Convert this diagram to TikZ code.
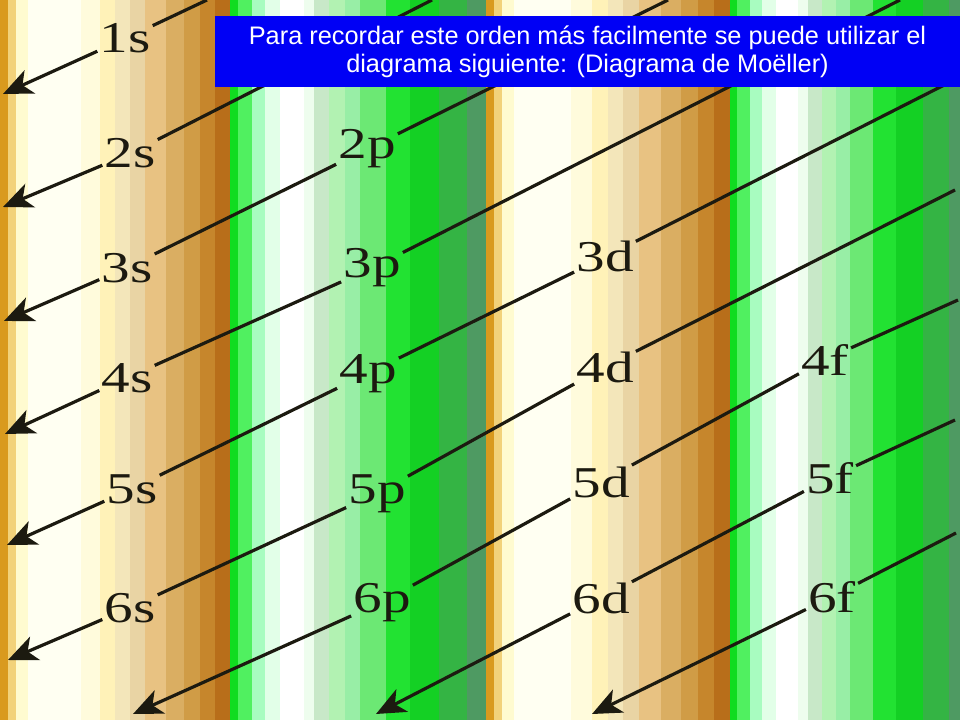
\documentclass[tikz,border=0pt]{standalone}
\usepackage{fontspec}
\setmainfont{Liberation Serif}
\newfontfamily\notefont{Liberation Sans}
\usetikzlibrary{arrows.meta}

\definecolor{ink}{HTML}{1C1A10}
\definecolor{noteblue}{HTML}{0000F5}
% brown stripe
\definecolor{brA}{HTML}{D99A1E}
\definecolor{brB}{HTML}{F2D27A}
\definecolor{brC}{HTML}{FFFBD0}
\definecolor{brD}{HTML}{FFFFF2}
\definecolor{brE}{HTML}{FFFBDC}
\definecolor{brF}{HTML}{FFF2B8}
\definecolor{brG}{HTML}{F3E6BA}
\definecolor{brH}{HTML}{E9D4A4}
\definecolor{brI}{HTML}{E8C282}
\definecolor{brJ}{HTML}{DAAE62}
\definecolor{brK}{HTML}{D09C46}
\definecolor{brL}{HTML}{C6862C}
\definecolor{brM}{HTML}{B86E1A}
% green stripe
\definecolor{grA}{HTML}{10DC20}
\definecolor{grB}{HTML}{50F060}
\definecolor{grC}{HTML}{A8FCC0}
\definecolor{grD}{HTML}{E2FFE8}
\definecolor{grE}{HTML}{FFFFFF}
\definecolor{grF}{HTML}{EEFDEE}
\definecolor{grG}{HTML}{C8E8C8}
\definecolor{grH}{HTML}{B2F2B2}
\definecolor{grI}{HTML}{98EEA6}
\definecolor{grJ}{HTML}{6CE874}
\definecolor{grK}{HTML}{22E232}
\definecolor{grL}{HTML}{14D024}
\definecolor{grM}{HTML}{34B444}
\definecolor{grN}{HTML}{4E9A62}

\newcommand\wide[1]{\scalebox{1.3}[1]{#1}}

\tikzset{
  orbital/.style={font=\fontsize{33}{37}\selectfont, text=ink, inner sep=1.5pt, anchor=base},
  diag/.style={draw=ink, line width=2.4pt},
  diagarrow/.style={diag, -{Stealth[length=22pt,width=19pt,inset=6pt]}},
  note/.style={fill=noteblue, text=white, font=\notefont\fontsize{19}{21}\selectfont,
    align=center, minimum width=558.75pt, minimum height=53.25pt, inner sep=0pt}
}

\begin{document}
\begin{tikzpicture}[x=0.75pt, y=-0.75pt]
    \useasboundingbox (0,0) rectangle (960,720);
    \clip (0,0) rectangle (960,720);

    % background stripes
    \foreach \xs/\sc in {0/2.3, 485/2.45} {
        \begin{scope}[shift={(\xs,0)}, xscale=\sc]
            \foreach \a/\b/\c in {0/3.5/brA, 3.5/7/brB, 7/12/brC, 12/35/brD, 35/43.5/brE,
                43.5/50/brF, 50/56.5/brG, 56.5/63/brH, 63/72/brI, 72/80/brJ, 80/87/brK,
                87/93.5/brL, 93.5/100/brM}
                \fill[\c] (\a,0) rectangle (\b+0.4,720);
        \end{scope}
    }
    \foreach \xs/\sc in {230/2.55, 730/2.35} {
        \begin{scope}[shift={(\xs,0)}, xscale=\sc]
            \foreach \a/\b/\c in {0/3/grA, 3/8.6/grB, 8.6/13.7/grC, 13.7/19.6/grD, 19.6/29/grE,
                29/33/grF, 33/39/grG, 39/45/grH, 45/51/grI, 51/61/grJ, 61/70.6/grK,
                70.6/82/grL, 82/93/grM, 93/100/grN}
                \fill[\c] (\a,0) rectangle (\b+0.4,720);
        \end{scope}
    }

    % orbitals
    \node[orbital] (l1s) at (125,53) {\wide{1s}};
    \node[orbital] (l2s) at (130,168) {\wide{2s}};
    \node[orbital] (l3s) at (127,282) {\wide{3s}};
    \node[orbital] (l4s) at (127,392) {\wide{4s}};
    \node[orbital] (l5s) at (132,503) {\wide{5s}};
    \node[orbital] (l6s) at (130,622) {\wide{6s}};
    \node[orbital] (l2p) at (367,159) {\wide{2p}};
    \node[orbital] (l3p) at (372,278) {\wide{3p}};
    \node[orbital] (l4p) at (368,383) {\wide{4p}};
    \node[orbital] (l5p) at (377,503) {\wide{5p}};
    \node[orbital] (l6p) at (382,612) {\wide{6p}};
    \node[orbital] (l3d) at (605,272) {\wide{3d}};
    \node[orbital] (l4d) at (605,382) {\wide{4d}};
    \node[orbital] (l5d) at (601,497) {\wide{5d}};
    \node[orbital] (l6d) at (601,613) {\wide{6d}};
    \node[orbital] (l4f) at (825,375) {\wide{4f}};
    \node[orbital] (l5f) at (830,493) {\wide{5f}};
    \node[orbital] (l6f) at (832,612) {\wide{6f}};

    % free ends at the edges
    \coordinate (a1s) at (3,94);
    \coordinate (a2s) at (3,207);
    \coordinate (a3s) at (4,321);
    \coordinate (a4s) at (5,434);
    \coordinate (a5s) at (7,545);
    \coordinate (a6s) at (8,660);
    \coordinate (a6p) at (133,714);
    \coordinate (a6d) at (376,714);
    \coordinate (a6f) at (592,714);
    \coordinate (t1s) at (207,0);
    \coordinate (t2s) at (432,0);
    \coordinate (t2p) at (668,0);
    \coordinate (t3p) at (900,0);
    \coordinate (t3d) at (958,78);
    \coordinate (t4d) at (955,190);
    \coordinate (t4f) at (958,300);
    \coordinate (t5f) at (955,420);
    \coordinate (t6f) at (956,533);

    % diagonals
    \draw[diag] (t1s) -- (l1s);
    \draw[diag] (t2s) -- (l2s);
    \draw[diag] (t2p) -- (l2p);
    \draw[diag] (l2p) -- (l3s);
    \draw[diag] (t3p) -- (l3p);
    \draw[diag] (l3p) -- (l4s);
    \draw[diag] (t3d) -- (l3d);
    \draw[diag] (l3d) -- (l4p);
    \draw[diag] (l4p) -- (l5s);
    \draw[diag] (t4d) -- (l4d);
    \draw[diag] (l4d) -- (l5p);
    \draw[diag] (l5p) -- (l6s);
    \draw[diag] (t4f) -- (l4f);
    \draw[diag] (l4f) -- (l5d);
    \draw[diag] (l5d) -- (l6p);
    \draw[diag] (t5f) -- (l5f);
    \draw[diag] (l5f) -- (l6d);
    \draw[diag] (t6f) -- (l6f);

    \draw[diagarrow] (l1s) -- (a1s);
    \draw[diagarrow] (l2s) -- (a2s);
    \draw[diagarrow] (l3s) -- (a3s);
    \draw[diagarrow] (l4s) -- (a4s);
    \draw[diagarrow] (l5s) -- (a5s);
    \draw[diagarrow] (l6s) -- (a6s);
    \draw[diagarrow] (l6p) -- (a6p);
    \draw[diagarrow] (l6d) -- (a6d);
    \draw[diagarrow] (l6f) -- (a6f);

    % caption box
    \node[note] (note) at (587.5,51.5) {Para recordar este orden más facilmente se puede utilizar el\\
        diagrama siguiente: (Diagrama de Moëller)};
\end{tikzpicture}
\end{document}
